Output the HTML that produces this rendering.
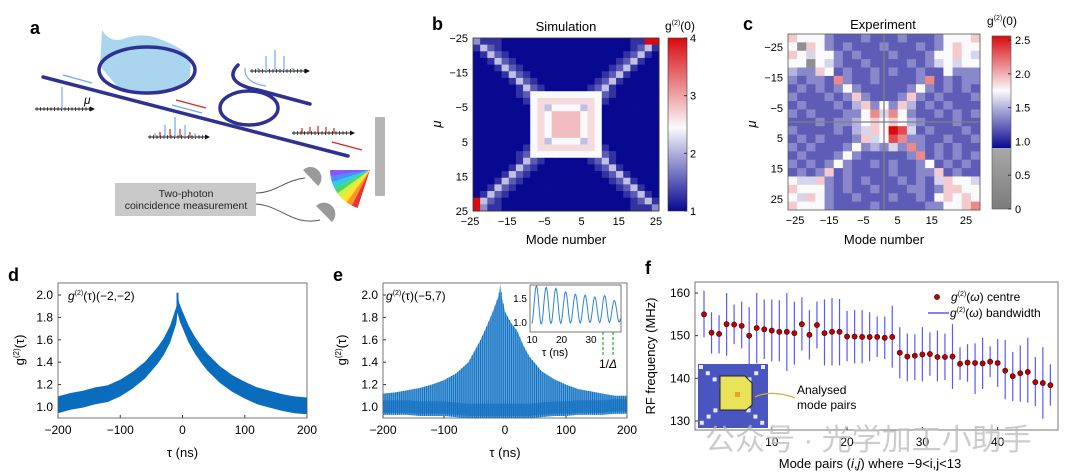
<!DOCTYPE html>
<html><head><meta charset="utf-8">
<style>
html,body{margin:0;padding:0;background:#fff;}
svg{display:block;font-family:"Liberation Sans","Noto Sans CJK SC",sans-serif;}
</style></head>
<body>
<svg id="fig" width="1080" height="475" viewBox="0 0 1080 475" xmlns="http://www.w3.org/2000/svg">
<!-- Panel a schematic -->
<g>
  <text x="30" y="34" font-size="18" font-weight="bold">a</text>
  <path d="M100,66 L102,30 C108,40 116,42 126,38 C142,33 152,36 162,40 C176,45 186,52 191,58 L190,76 C180,90 160,93 140,92 L120,90 Z" fill="#a9d5ef"/>
  <line x1="43" y1="77" x2="348" y2="156" stroke="#2e3192" stroke-width="3.5" stroke-linecap="round"/>
  <ellipse cx="147" cy="70" rx="48" ry="23" fill="none" stroke="#2e3192" stroke-width="3.5"/>
  <ellipse cx="249" cy="108" rx="29" ry="17" fill="none" stroke="#2e3192" stroke-width="3.5"/>
  <path d="M238,65 C228,75 232,85 258,90 L310,104" fill="none" stroke="#2e3192" stroke-width="3.5" stroke-linecap="round"/>
  <path d="M266,86 C252,84 244,78 245,68" fill="none" stroke="#7fb2f0" stroke-width="1.3"/>
  <g stroke-width="1.3">
    <line x1="63" y1="75" x2="92" y2="83" stroke="#6fa8f5"/>
    <line x1="176" y1="100" x2="206" y2="108" stroke="#e02020"/>
    <line x1="172" y1="105" x2="202" y2="113" stroke="#6fa8f5"/>
    <line x1="332" y1="142" x2="362" y2="150" stroke="#e02020"/>
  </g>
  <g id="spectra"></g>
  <text x="84" y="104" font-size="12" font-style="italic">μ</text>
  <polygon points="375,117 385,117 385,196 375,196" fill="#b5b5b5"/>
  <g id="fan"></g>
  <path d="M256,193 C275,193 285,180 305,178" fill="none" stroke="#555" stroke-width="1"/>
  <path d="M256,204 C282,206 292,226 320,220" fill="none" stroke="#555" stroke-width="1"/>
  <path d="M303,170 A10,10 0 0 1 318,186 Z" fill="#9a9a9a"/>
  <path d="M316,206 A10,10 0 0 1 332,222 Z" fill="#9a9a9a"/>
  <rect x="115" y="183" width="141" height="33" fill="#c9c9c9"/>
  <text x="186" y="197" font-size="10.5" text-anchor="middle" fill="#222">Two-photon</text>
  <text x="186" y="209" font-size="10.5" text-anchor="middle" fill="#222">coincidence measurement</text>
</g>

<g id="panelB"></g>
<g id="panelC"></g>
<g id="panelD"></g>
<g id="panelE"></g>
<g id="panelF"></g>
<text x="705" y="450" font-size="30" fill="#bcbcbc" opacity="0.75">公众号 · 光学加工小助手</text>
</svg>
<script>
// ===== Data =====
const bLevelValues = [1.0,1.25,1.5,1.8,2.1,2.45,2.65,2.85,3.5,4.0];
const bRows = [
"31110000000000000000001199",
"14210000000000000000001241",
"01421000000000000000012410",
"00142100000000000000124100",
"00014210000000000001241000",
"00001421000000000012410000",
"00000142100000000124100000",
"00000014210000001241000000",
"00000012555555555521000000",
"00000001566666666510000000",
"00000000564555546500000000",
"00000000565777756500000000",
"00000000565777756500000000",
"00000000565777756500000000",
"00000000565777756500000000",
"00000000564555546500000000",
"00000001566666666510000000",
"00000012555555555521000000",
"00000014210000001241000000",
"00000142100000000124100000",
"00001421000000000012410000",
"00014210000000000001241000",
"00142100000000000000124100",
"01421000000000000000012410",
"94210000000000000000001241",
"93110000000000000000001113"];
const bTicks = [-25,-15,-5,5,15,25];
const bCbTicks = [1,2,3,4];

const cLevelValues = [1.05,1.2,1.35,1.5,1.62,1.75,1.9,2.1,2.3,2.5];
const cGrayValue = 0.5;
const cRows = [
"655521112111211125556",
"5a6521211121112125655",
"654552121112111255654",
"55a542112111121245455",
"322651211212112115222",
"212217211211112712122",
"121212521111125212121",
"211121262111262121112",
"121112136252631212111",
"212111225747521121212",
"111212235656532111211",
"211112134659841211121",
"121211126458722112112",
"212111252324272121211",
"121112521111127121212",
"212125211212112512121",
"121261211112112261211",
"544621212111212146554",
"655521211211122126655",
"546521121112112156565",
"655521111211111225567"];
const cTicks = [-25,-15,-5,5,15,25];
const cCbTicks = [0,0.5,1.0,1.5,2.0,2.5];

const dTau  = [-200,-180,-160,-140,-120,-100,-80,-60,-40,-30,-20,-10,-8,-5,0,10,20,30,40,60,80,100,120,140,160,180,200];
const dMean = [1.02,1.05,1.07,1.10,1.12,1.17,1.24,1.33,1.46,1.54,1.65,1.82,1.92,1.85,1.78,1.65,1.55,1.47,1.40,1.29,1.21,1.15,1.10,1.07,1.04,1.02,1.01];
const dSpread = 0.075;
const dPeak = 2.02;
const eTau  = [-200,-180,-160,-140,-120,-100,-80,-60,-40,-30,-20,-10,-8,-5,0,10,20,30,40,60,80,100,120,140,160,180,200];
const eHigh = [1.12,1.13,1.15,1.17,1.2,1.24,1.3,1.4,1.6,1.72,1.85,2.0,2.1,1.98,1.85,1.75,1.68,1.55,1.45,1.32,1.25,1.2,1.16,1.14,1.12,1.1,1.1];
const eLow  = [0.93,0.93,0.93,0.92,0.92,0.92,0.91,0.9,0.9,0.9,0.9,0.9,0.9,0.9,0.9,0.9,0.9,0.9,0.9,0.91,0.92,0.92,0.93,0.93,0.93,0.94,0.94];
const eInsetPeaks   = [1.75,1.72,1.7,1.63,1.58,1.56,1.52,1.55,1.45];
const eInsetTroughs = [0.95,0.96,0.97,0.98,0.98,0.99,0.99,0.99,1.0];
const xTicksDE = [-200,-100,0,100,200];
const yTicksDE = [1.0,1.2,1.4,1.6,1.8,2.0];

const fCentre = [155,150.7,150.4,152.7,152.6,152.3,150,151.8,151.5,151.2,150.9,150.9,150.6,152.7,150.2,152.5,150.6,150.9,150.9,149.8,149.8,149.7,149.7,149.7,149.5,149.7,146,145.1,145.3,145.6,145.7,145,145,145.1,143.4,143.7,143.6,143.5,143.9,143.6,141.8,140.5,141.2,141.5,139.1,138.9,138.4];
const fHigh = [160.5,155.5,154.8,160,157.3,158,156.7,160,158.5,158.5,158.3,160,158,159,156,158,158.5,158.8,158.6,155.8,156,156,155.5,154.5,154.5,157,152,150.5,150.3,152,150.8,151.2,150.5,152.7,147.3,148,148.2,149.5,147.5,149.2,149,146.2,147.7,149.5,145,147.3,143.3];
const fLow = [149.6,145.8,145.8,145.3,148,147,143.3,143.5,144.5,144,144,141.7,143.2,146.5,144.4,147,143,143,143,144,143.5,143.5,144,145,144.5,142.5,140,139.3,139.6,139.3,140.6,139.3,139.6,137.5,139.6,139.2,136.3,137.5,140.3,138,135.1,134.7,134.5,134.3,133.5,130.5,133.6];
const fXTicks = [10,20,30,40];
const fYTicks = [130,140,150,160];

// ===== helpers =====
const NS="http://www.w3.org/2000/svg";
function mk(parent, tag, attrs, txt){
  const e=document.createElementNS(NS,tag);
  for(const k in attrs) e.setAttribute(k,attrs[k]);
  if(txt!==undefined) e.textContent=txt;
  parent.appendChild(e); return e;
}
function lerp(a,b,t){return a+(b-a)*t;}
function mix(c1,c2,t){t=Math.max(0,Math.min(1,t));return `rgb(${Math.round(lerp(c1[0],c2[0],t))},${Math.round(lerp(c1[1],c2[1],t))},${Math.round(lerp(c1[2],c2[2],t))})`;}
const NAVY=[8,8,145], WHITE=[250,250,252], RED=[215,10,15];
function divColor(v,lo,mid,hi){ return v<=mid ? mix(NAVY,WHITE,(v-lo)/(mid-lo)) : mix(WHITE,RED,(v-mid)/(hi-mid)); }
function interp(xs,ys,x){
  if(x<=xs[0])return ys[0];
  for(let i=1;i<xs.length;i++){ if(x<=xs[i]){const t=(x-xs[i-1])/(xs[i]-xs[i-1]);return ys[i-1]+t*(ys[i]-ys[i-1]);} }
  return ys[ys.length-1];
}
function rotText(g,x,y,s,size){
  const t=mk(g,'text',{x:x,y:y,'font-size':size,'text-anchor':'middle',transform:`rotate(-90 ${x} ${y})`});
  return t;
}

// ===== Panel a spectra & fan =====
(function(){
  const g=document.getElementById('spectra');
  const specs=[
    {x0:35,y:109,x1:90,bars:[[62,22,'#6fa8f5']]},
    {x0:148,y:137,x1:205,bars:[[155,4,'#6fa8f5'],[160,5,'#e02020'],[165,12,'#6fa8f5'],[170,8,'#e02020'],[175,20,'#6fa8f5'],[180,8,'#e02020'],[185,12,'#6fa8f5'],[190,5,'#e02020'],[195,4,'#6fa8f5']]},
    {x0:250,y:71,x1:305,bars:[[258,3,'#6fa8f5'],[266,15,'#6fa8f5'],[275,21,'#6fa8f5'],[284,15,'#6fa8f5'],[293,3,'#6fa8f5']]},
    {x0:292,y:133,x1:350,bars:[[302,5,'#e02020'],[310,6,'#e02020'],[318,7,'#e02020'],[326,6,'#e02020'],[334,5,'#e02020']]}
  ];
  specs.forEach((s,i)=>{
    const sg=mk(g,'g',{});
    
    
    mk(sg,'line',{x1:s.x0,y1:s.y,x2:s.x1,y2:s.y,stroke:'#111','stroke-width':1});
    mk(sg,'polygon',{points:`${s.x1},${s.y-2.5} ${s.x1+5},${s.y} ${s.x1},${s.y+2.5}`,fill:'#111'});
    for(let x=s.x0+2;x<s.x1;x+=3.5) mk(sg,'line',{x1:x,y1:s.y-2,x2:x,y2:s.y+2,stroke:'#111','stroke-width':0.7});
    s.bars.forEach(b=>mk(sg,'line',{x1:b[0],y1:s.y,x2:b[0],y2:s.y-b[1],stroke:b[2],'stroke-width':1.2}));
  });
  const f=document.getElementById('fan');
  const cols=['#6a3cff','#2a7bff','#00c8e0','#30d050','#c8f020','#ffe000','#ff8000','#e01010'];
  const cx=370, cy=170, r=40;
  cols.forEach((c,i)=>{
    const a0=(180-i*9)*Math.PI/180, a1=(180-(i+1)*9)*Math.PI/180;
    mk(f,'path',{d:`M${cx},${cy} L${(cx+r*Math.cos(a0)).toFixed(1)},${(cy+r*Math.sin(a0)).toFixed(1)} L${(cx+r*Math.cos(a1)).toFixed(1)},${(cy+r*Math.sin(a1)).toFixed(1)} Z`,fill:c,opacity:0.85});
  });
})();

// ===== Panel b =====
(function(){
  const g=document.getElementById('panelB');
  const L=473,T=38,W=186,H=173,n=bRows.length;
  const cw=W/n, ch=H/n;
  mk(g,'text',{x:432,y:30,'font-size':18,'font-weight':'bold'},'b');
  mk(g,'text',{x:566,y:31,'font-size':13,'text-anchor':'middle'},'Simulation');
  for(let r=0;r<n;r++){for(let c=0;c<n;c++){
    const v=bLevelValues[+bRows[r][c]];
    const rc=mk(g,'rect',{x:(L+c*cw).toFixed(2),y:(T+r*ch).toFixed(2),width:(cw+0.4).toFixed(2),height:(ch+0.4).toFixed(2),fill:divColor(v,1,2.45,4)});
    
    
  }}
  mk(g,'rect',{x:L,y:T,width:W,height:H,fill:'none',stroke:'#333','stroke-width':0.8});
  const xs=m=>L+(m+25)/50*W, ys=m=>T+(m+25)/50*H;
  bTicks.forEach(m=>{
    const t=mk(g,'text',{x:xs(m)-3,y:225,'font-size':11,'text-anchor':'middle'},m<0?'−'+(-m):''+m);
    
    const u=mk(g,'text',{x:L-5,y:ys(m)+4,'font-size':11,'text-anchor':'end'},m<0?'−'+(-m):''+m);
    
  });
  mk(g,'text',{x:566,y:244,'font-size':13,'text-anchor':'middle'},'Mode number');
  const mu=rotText(g,441,124,'μ',13); mu.textContent='μ'; mu.setAttribute('font-style','italic'); 
  const cbL=668,cbW=19;
  const gr=mk(g,'defs',{});
  const lg=mk(gr,'linearGradient',{id:'gb',x1:0,y1:1,x2:0,y2:0});
  [[0,1],[0.483,2.45],[1,4]].forEach(s=>mk(lg,'stop',{offset:s[0],'stop-color':divColor(s[1],1,2.45,4)}));
  const cb=mk(g,'rect',{x:cbL,y:T,width:cbW,height:H,fill:'url(#gb)',stroke:'#333','stroke-width':0.6});
  
  const cy=v=>T+H-(v-1)/3*H;
  bCbTicks.forEach(v=>{
    mk(g,'line',{x1:cbL+cbW-3,y1:cy(v),x2:cbL+cbW,y2:cy(v),stroke:'#333'});
    const t=mk(g,'text',{x:cbL+cbW+3,y:cy(v)+4,'font-size':11},''+v); 
  });
  const gl=mk(g,'text',{x:680,y:30,'font-size':12,'text-anchor':'middle'});
  gl.innerHTML='g<tspan font-size="7" dy="-5">(2)</tspan><tspan dy="5">(0)</tspan>';
  
})();

// ===== Panel c =====
(function(){
  const g=document.getElementById('panelC');
  const L=788,T=34,W=192,H=176,n=cRows.length;
  const cw=W/n, ch=H/n;
  mk(g,'text',{x:743,y:30,'font-size':18,'font-weight':'bold'},'c');
  mk(g,'text',{x:883,y:29,'font-size':13,'text-anchor':'middle'},'Experiment');
  for(let r=0;r<n;r++){for(let c=0;c<n;c++){
    const ch_=cRows[r][c];
    const v= ch_==='a'? cGrayValue : cLevelValues[+ch_];
    const fill = v<0.9 ? mix([110,110,110],[170,170,170],v/0.9) : divColor(v,0.9,1.75,2.5);
    const rc=mk(g,'rect',{x:(L+c*cw).toFixed(2),y:(T+r*ch).toFixed(2),width:(cw+0.4).toFixed(2),height:(ch+0.4).toFixed(2),fill:fill});
    
    
  }}
  mk(g,'line',{x1:L+W/2,y1:T,x2:L+W/2,y2:T+H,stroke:'#808080','stroke-width':1.3});
  mk(g,'line',{x1:L,y1:T+H/2,x2:L+W,y2:T+H/2,stroke:'#808080','stroke-width':1.3});
  mk(g,'rect',{x:L,y:T,width:W,height:H,fill:'none',stroke:'#555','stroke-width':0.8});
  const xs=m=>798+(m+25)/50*171, ys=m=>47+(m+25)/50*152;
  cTicks.forEach(m=>{
    const t=mk(g,'text',{x:xs(m)-3,y:224,'font-size':11,'text-anchor':'middle'},m<0?'−'+(-m):''+m);
    
    const u=mk(g,'text',{x:L-5,y:ys(m)+4,'font-size':11,'text-anchor':'end'},m<0?'−'+(-m):''+m);
    
  });
  mk(g,'text',{x:884,y:244,'font-size':13,'text-anchor':'middle'},'Mode number');
  const mu=rotText(g,756,124,'μ',13); mu.textContent='μ'; mu.setAttribute('font-style','italic'); 
  const cbL=992,cbW=19;
  const cy=v=>209-v*67.6;
  const d=mk(g,'defs',{});
  const lg=mk(d,'linearGradient',{id:'gc',gradientUnits:'userSpaceOnUse',x1:0,x2:0});
  lg.setAttribute('y1',cy(0.9)); lg.setAttribute('y2',cy(2.56));
  [[0,0.9],[(1.75-0.9)/1.66,1.75],[1,2.56]].forEach(s=>mk(lg,'stop',{offset:s[0],'stop-color':divColor(Math.min(s[1],2.5),0.9,1.75,2.5)}));
  mk(g,'rect',{x:cbL,y:cy(2.56),width:cbW,height:cy(0.9)-cy(2.56),fill:'url(#gc)'});
  const lg2=mk(d,'linearGradient',{id:'gc2',x1:0,y1:0,x2:0,y2:1});
  mk(lg2,'stop',{offset:0,'stop-color':'#a8a8a8'}); mk(lg2,'stop',{offset:1,'stop-color':'#7c7c7c'});
  mk(g,'rect',{x:cbL,y:cy(0.9),width:cbW,height:cy(0)-cy(0.9),fill:'url(#gc2)'});
  const cb=mk(g,'rect',{x:cbL,y:cy(2.56),width:cbW,height:cy(0)-cy(2.56),fill:'none',stroke:'#555','stroke-width':0.6});
  
  cCbTicks.forEach(v=>{
    mk(g,'line',{x1:cbL+cbW-3,y1:cy(v),x2:cbL+cbW,y2:cy(v),stroke:'#333'});
    const t=mk(g,'text',{x:cbL+cbW+4,y:cy(v)+4,'font-size':11},v===0?'0':v.toFixed(1)); 
  });
  const gl=mk(g,'text',{x:1002,y:25,'font-size':12,'text-anchor':'middle'});
  gl.innerHTML='g<tspan font-size="7" dy="-5">(2)</tspan><tspan dy="5">(0)</tspan>';
  
})();

// ===== Panels d & e axes =====
function timeAxes(g,L,R,labelX,titleX,letter,letterX){
  const T=283,B=418;
  const X=t=>L+(t+200)/400*(R-L), Y=v=>407-(v-1)*112;
  mk(g,'text',{x:letterX,y:281,'font-size':18,'font-weight':'bold'},letter);
  xTicksDE.forEach(t=>{
    mk(g,'line',{x1:X(t),y1:B,x2:X(t),y2:B-3,stroke:'#333'});
    const tx=mk(g,'text',{x:X(t),y:434,'font-size':12,'text-anchor':'middle'},t<0?'−'+(-t):''+t);
    
  });
  yTicksDE.forEach(v=>{
    mk(g,'line',{x1:L,y1:Y(v),x2:L+3,y2:Y(v),stroke:'#333'});
    const tx=mk(g,'text',{x:L-5,y:Y(v)+4,'font-size':12,'text-anchor':'end'},v.toFixed(1));
    
  });
  const xt=mk(g,'text',{x:(L+R)/2,y:457,'font-size':13,'text-anchor':'middle'},'τ (ns)');
  
  const yt=mk(g,'text',{x:titleX,y:350,'font-size':13,'text-anchor':'middle',transform:`rotate(-90 ${titleX} 350)`});
  yt.innerHTML='g<tspan font-size="8" dy="-5">(2)</tspan><tspan dy="5">(τ)</tspan>';
  
  return {X,Y,T,B};
}

// Panel d
(function(){
  const g=document.getElementById('panelD');
  const L=58,R=307;
  const {X,Y,T,B}=timeAxes(g,L,R,L-5,24,'d',8);
  let pts=[];
  dTau.forEach((t,i)=>pts.push(X(t).toFixed(1)+','+Y(Math.min(dMean[i]+dSpread,2.1)).toFixed(1)));
  for(let i=dTau.length-1;i>=0;i--) pts.push(X(dTau[i]).toFixed(1)+','+Y(Math.max(dMean[i]-dSpread,0.9)).toFixed(1));
  const band=mk(g,'polygon',{points:pts.join(' '),fill:'#0a6cbd'});
  
  
  const i0=dTau.indexOf(-8);
  const sp=mk(g,'line',{x1:X(-8),y1:Y(dMean[i0]),x2:X(-8),y2:Y(dPeak),stroke:'#0a6cbd','stroke-width':2});
  
  mk(g,'rect',{x:L,y:T,width:R-L,height:B-T,fill:'none',stroke:'#555','stroke-width':0.8});
  const ann=mk(g,'text',{x:68,y:300,'font-size':12});
  ann.innerHTML='<tspan font-style="italic">g</tspan><tspan font-size="7" dy="-5">(2)</tspan><tspan dy="5">(τ)(−2,−2)</tspan>';
  
})();

// Panel e
(function(){
  const g=document.getElementById('panelE');
  const L=383,R=627;
  const {X,Y,T,B}=timeAxes(g,L,R,L-5,346,'e',333);
  let pts=[];
  eTau.forEach((t,i)=>pts.push(X(t).toFixed(1)+','+Y(eHigh[i]).toFixed(1)));
  for(let i=eTau.length-1;i>=0;i--) pts.push(X(eTau[i]).toFixed(1)+','+Y(eLow[i]).toFixed(1));
  const band=mk(g,'polygon',{points:pts.join(' '),fill:'#5fa3dc'});
  
  const lines=mk(g,'g',{stroke:'#0a6cbd','stroke-width':0.9});
  
  for(let t=-200;t<=200;t+=3.4){
    const l=mk(lines,'line',{x1:X(t),x2:X(t),y1:Y(interp(eTau,eHigh,t)),y2:Y(interp(eTau,eLow,t))});
  }
  let bp=[];
  eTau.forEach((t,i)=>bp.push(X(t).toFixed(1)+','+Y(eLow[i]+0.13).toFixed(1)));
  for(let i=eTau.length-1;i>=0;i--) bp.push(X(eTau[i]).toFixed(1)+','+Y(eLow[i]+0.02).toFixed(1));
  const base=mk(g,'polygon',{points:bp.join(' '),fill:'#1470c0',opacity:0.7});
  
  mk(g,'rect',{x:L,y:T,width:R-L,height:B-T,fill:'none',stroke:'#555','stroke-width':0.8});
  const ann=mk(g,'text',{x:386,y:300,'font-size':12});
  ann.innerHTML='<tspan font-style="italic">g</tspan><tspan font-size="7" dy="-5">(2)</tspan><tspan dy="5">(τ)(−5,7)</tspan>';
  
  const iL=530,iR=621,iT=285,iB=332;
  const IX=t=>532+(t-10)*2.95, IY=v=>322-(v-1)*48;
  const ib=mk(g,'rect',{x:iL,y:iT,width:iR-iL,height:iB-iT,fill:'#fff',stroke:'#555','stroke-width':0.8});
  
  const period=3.3, t0=11.5;
  let d='';
  for(let t=10;t<=40;t+=0.15){
    const k=Math.max(0,Math.min(eInsetPeaks.length-1,Math.round((t-t0)/period)));
    const p=eInsetPeaks[k], q=eInsetTroughs[k];
    const v=(p+q)/2+(p-q)/2*Math.cos(2*Math.PI*(t-t0)/period);
    d+=(d?'L':'M')+IX(t).toFixed(1)+','+IY(v).toFixed(1);
  }
  const ip=mk(g,'path',{d:d,fill:'none',stroke:'#2a86d0','stroke-width':1});
  
  [[1.5,'1.5'],[1.0,'1.0']].forEach(a=>{const t=mk(g,'text',{x:iL-3,y:IY(a[0])+4,'font-size':10,'text-anchor':'end'},a[1]); });
  [10,20,30].forEach(v=>{const t=mk(g,'text',{x:IX(v),y:iB+11,'font-size':10,'text-anchor':'middle'},''+v); });
  mk(g,'text',{x:555,y:356,'font-size':11,'text-anchor':'middle'},'τ (ns)');
  [603,613].forEach(x=>mk(g,'line',{x1:x,y1:iB,x2:x,y2:355,stroke:'#22b022','stroke-width':1.2,'stroke-dasharray':'3,2'}));
  const dl=mk(g,'text',{x:608,y:368,'font-size':12,'text-anchor':'middle'});
  dl.innerHTML='1/<tspan font-style="italic">Δ</tspan>';
  
})();

// ===== Panel f =====
(function(){
  const g=document.getElementById('panelF');
  const L=695,R=1058,T=282,B=430;
  const X=i=>704+(i-1)*7.53, Y=v=>293+(160-v)*128/30;
  mk(g,'text',{x:645,y:274,'font-size':18,'font-weight':'bold'},'f');
  const ig=mk(g,'g',{});
  
  mk(ig,'rect',{x:698,y:364,width:70,height:64,fill:'#4a55c0'});
  for(let k=0;k<10;k++){
    mk(ig,'rect',{x:699+k*6.8,y:365+k*6.2,width:4,height:4,fill:'#e8e8f8'});
    mk(ig,'rect',{x:761-k*6.8,y:365+k*6.2,width:4,height:4,fill:'#e8e8f8'});
  }
  mk(ig,'polygon',{points:'720,376 745,376 752,383 752,405 746,410 720,410',fill:'#e9e35a',stroke:'#222','stroke-width':1});
  mk(ig,'rect',{x:735,y:392,width:5,height:5,fill:'#f0a020'});
  mk(ig,'path',{d:'M795,398 C780,392 765,392 755,397',fill:'none',stroke:'#d4b02a','stroke-width':1.2});
  mk(g,'text',{x:797,y:394,'font-size':12},'Analysed');
  mk(g,'text',{x:797,y:409,'font-size':12},'mode pairs');
  fCentre.forEach((v,k)=>{
    const i=k+1;
    const eb=mk(g,'line',{x1:X(i),y1:Y(fHigh[k]),x2:X(i),y2:Y(fLow[k]),stroke:'#5a5af5','stroke-width':1.2});
    
    
    const c=mk(g,'circle',{cx:X(i),cy:Y(v),r:2.6,fill:'#c00000',stroke:'#300','stroke-width':0.6});
    
    
  });
  mk(g,'rect',{x:L,y:T,width:R-L,height:B-T,fill:'none',stroke:'#555','stroke-width':0.8});
  fXTicks.forEach(v=>{
    mk(g,'line',{x1:X(v),y1:B,x2:X(v),y2:B-3,stroke:'#333'});
    const t=mk(g,'text',{x:X(v),y:446,'font-size':12,'text-anchor':'middle'},''+v); 
  });
  fYTicks.forEach(v=>{
    mk(g,'line',{x1:L,y1:Y(v),x2:L+3,y2:Y(v),stroke:'#333'});
    const t=mk(g,'text',{x:L-5,y:Y(v)+4,'font-size':12,'text-anchor':'end'},''+v); 
  });
  const yt=mk(g,'text',{x:655,y:356,'font-size':13,'text-anchor':'middle',transform:'rotate(-90 655 356)'},'RF frequency (MHz)');
  
  const xt=mk(g,'text',{x:870,y:468,'font-size':13,'text-anchor':'middle'});
  xt.innerHTML='Mode pairs (<tspan font-style="italic">i</tspan>,<tspan font-style="italic">j</tspan>) where −9&lt;i,j&lt;13';
  
  const lg=mk(g,'g',{});
  
  mk(lg,'circle',{cx:937,cy:297,r:2.6,fill:'#c00000',stroke:'#300','stroke-width':0.6});
  const l1=mk(lg,'text',{x:951,y:301,'font-size':12});
  l1.innerHTML='<tspan font-style="italic">g</tspan><tspan font-size="7" dy="-5">(2)</tspan><tspan dy="5">(<tspan font-style="italic">ω</tspan>) centre</tspan>';
  mk(lg,'line',{x1:928,y1:313,x2:949,y2:313,stroke:'#5a5af5','stroke-width':1.5});
  const l2=mk(lg,'text',{x:950,y:317,'font-size':12});
  l2.innerHTML='<tspan font-style="italic">g</tspan><tspan font-size="7" dy="-5">(2)</tspan><tspan dy="5">(<tspan font-style="italic">ω</tspan>)  bandwidth</tspan>';
})();
</script>
</body></html>
